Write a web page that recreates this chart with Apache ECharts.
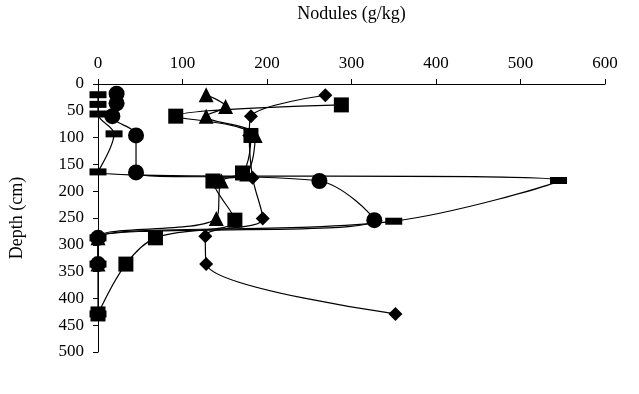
<!DOCTYPE html>
<html>
<head>
<meta charset="utf-8">
<script src="https://cdn.jsdelivr.net/npm/echarts@6/dist/echarts.min.js"></script>
<style>
  html, body { margin: 0; padding: 0; background: #fff; }
  #chart { width: 639px; height: 394px; }
</style>
</head>
<body>
<div id="chart"></div>
<script>
// depth (cm) and nodules (g/kg) for each profile
const depthTriangle = [20, 42, 60, 96, 168, 181, 251, 287, 336];
const nodulesTriangle = [128, 151, 128, 186, 176, 146, 140, 0, 0];

const depthSquare = [39, 60, 96, 166, 181, 254, 287, 336, 429];
const nodulesSquare = [288, 92, 181, 171, 136, 162, 68, 33, 0];

const depthDiamond = [21, 60, 96, 175, 251, 284, 336, 429];
const nodulesDiamond = [269, 181, 179, 183, 195, 127, 128, 352];

const depthCircle = [18, 36, 60, 96, 165, 181, 254, 287, 336];
const nodulesCircle = [22, 22, 17, 45, 45, 262, 327, 0, 0];

const depthDash = [20, 38, 56, 93, 164, 180, 256, 287, 336, 429];
const nodulesDash = [0, 0, 0, 19, 0, 545, 350, 0, 0, 0];

const xTicks = [0, 600, 100];
const yTicks = [0, 500, 50];

const font = "Liberation Serif";

function pairs(xs, ys) {
  return xs.map((x, i) => [x, ys[i]]);
}

function profile(name, xs, ys, symbol, size) {
  return {
    name: name,
    type: "line",
    data: pairs(xs, ys),
    smooth: 0.35,
    symbol: symbol,
    symbolSize: size,
    showSymbol: true,
    itemStyle: { color: "#000" },
    lineStyle: { color: "#000", width: 1.2 },
    z: 3,
  };
}

const chart = echarts.init(document.getElementById("chart"));
chart.setOption({
  animation: false,
  backgroundColor: "#fff",
  grid: { left: 94, top: 77, right: 34, bottom: 42 },
  xAxis: {
    type: "value",
    position: "top",
    min: xTicks[0],
    max: xTicks[1],
    interval: xTicks[2],
    name: "Nodules (g/kg)",
    nameLocation: "middle",
    nameGap: 61,
    nameTextStyle: { fontFamily: font, fontSize: 18, color: "#000" },
    axisLine: { show: true, lineStyle: { color: "#000", width: 1 } },
    axisTick: { show: true, inside: false, length: 5, lineStyle: { color: "#000" } },
    axisLabel: { fontFamily: font, fontSize: 17, color: "#000", margin: 12 },
    splitLine: { show: false },
  },
  yAxis: {
    type: "value",
    inverse: true,
    min: yTicks[0],
    max: yTicks[1],
    interval: yTicks[2],
    name: "Depth (cm)",
    nameLocation: "middle",
    nameRotate: 90,
    nameGap: 72,
    nameTextStyle: { fontFamily: font, fontSize: 18, color: "#000" },
    axisLine: { show: true, lineStyle: { color: "#000", width: 1 } },
    axisTick: { show: true, inside: false, length: 5, lineStyle: { color: "#000" } },
    axisLabel: { fontFamily: font, fontSize: 17, color: "#000", margin: 14 },
    splitLine: { show: false },
  },
  series: [
    profile("Triangle", nodulesTriangle, depthTriangle, "triangle", 15),
    profile("Square", nodulesSquare, depthSquare, "rect", 15),
    profile("Diamond", nodulesDiamond, depthDiamond, "diamond", 14),
    profile("Circle", nodulesCircle, depthCircle, "circle", 16),
    profile("Dash", nodulesDash, depthDash, "rect", [17, 7]),
  ],
});
</script>
</body>
</html>
